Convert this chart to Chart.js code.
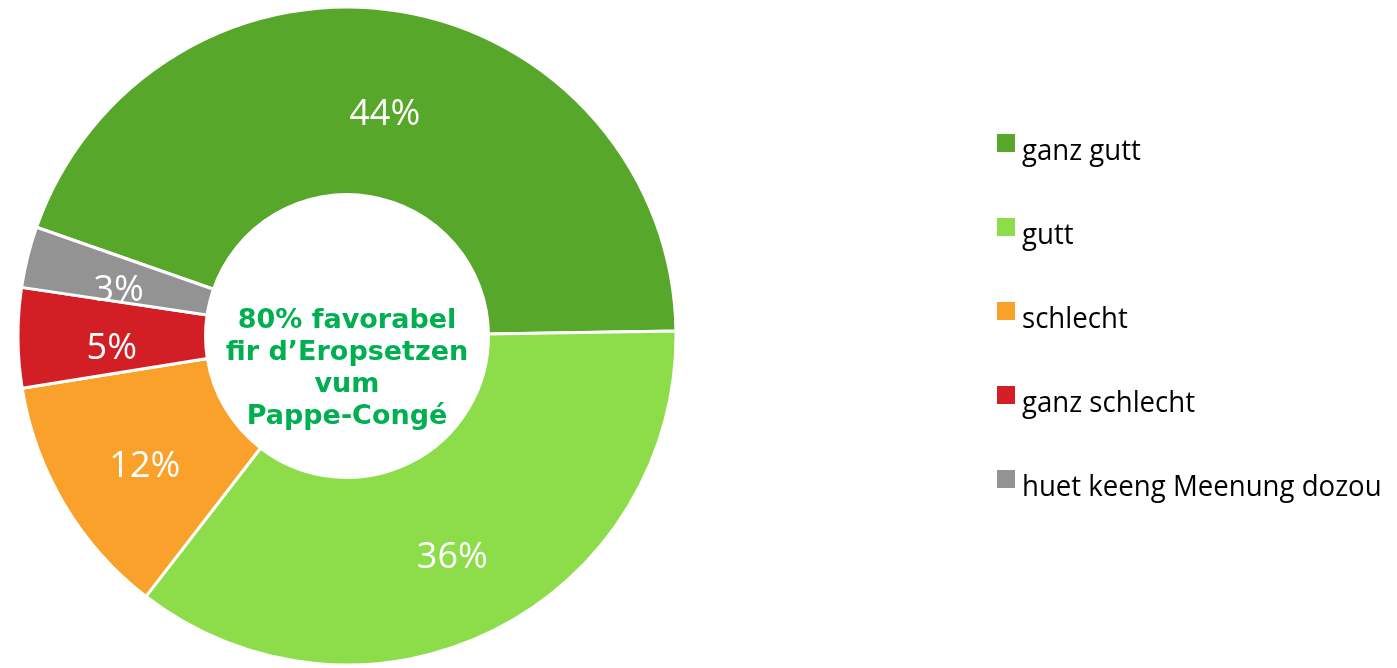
<!DOCTYPE html>
<html>
<head>
<meta charset="utf-8">
<script src="https://cdn.jsdelivr.net/npm/chart.js@4"></script>
<style>
  html, body { margin: 0; padding: 0; background: #ffffff; }
  #wrap { width: 1397px; height: 668px; position: relative; }
</style>
</head>
<body>
<div id="wrap"><canvas id="c" width="1397" height="668"></canvas></div>
<script>
const categories = ["ganz gutt", "gutt", "schlecht", "ganz schlecht", "huet keeng Meenung dozou"];
const values = [44.4, 35.7, 12, 4.9, 3];
const valueLabels = ["44%", "36%", "12%", "5%", "3%"];
const colors = ["#57a72a", "#8ddc4a", "#f9a12b", "#d21f25", "#939393"];
const centerLines = ["80% favorabel", "fir d\u2019Eropsetzen", "vum", "Pappe-Congé"];

const sliceLabelPlugin = {
  id: 'sliceLabels',
  afterDatasetsDraw(chart) {
    const ctx = chart.ctx;
    const meta = chart.getDatasetMeta(0);
    ctx.save();
    ctx.fillStyle = '#ffffff';
    ctx.font = '36px "Open Sans"';
    ctx.textAlign = 'center';
    ctx.textBaseline = 'middle';
    meta.data.forEach((arc, i) => {
      const p = arc.getCenterPoint();
      ctx.fillText(valueLabels[i], p.x, p.y + 11);
    });
    ctx.restore();
  }
};

const centerTextPlugin = {
  id: 'centerText',
  afterDatasetsDraw(chart) {
    const ctx = chart.ctx;
    const a = chart.chartArea;
    const cx = (a.left + a.right) / 2;
    const cy = (a.top + a.bottom) / 2;
    ctx.save();
    ctx.fillStyle = '#00b050';
    ctx.font = 'bold 27px "DejaVu Sans"';
    ctx.textAlign = 'center';
    ctx.textBaseline = 'alphabetic';
    const lh = 32;
    centerLines.forEach((t, i) => {
      ctx.fillText(t, cx, cy - 8 + i * lh);
    });
    ctx.restore();
  }
};

const legendPlugin = {
  id: 'customLegend',
  afterDraw(chart) {
    const ctx = chart.ctx;
    const ds = chart.data.datasets[0];
    ctx.save();
    ctx.font = '30px "Open Sans"';
    ctx.textAlign = 'left';
    ctx.textBaseline = 'alphabetic';
    chart.data.labels.forEach((lab, i) => {
      const cy = 143 + i * 84;
      ctx.fillStyle = ds.backgroundColor[i];
      ctx.fillRect(997, cy - 9, 18, 18);
      ctx.fillStyle = '#000000';
      ctx.save();
      ctx.translate(1022, cy + 17);
      ctx.scale(0.92, 1);
      ctx.fillText(lab, 0, 0);
      ctx.restore();
    });
    ctx.restore();
  }
};

new Chart(document.getElementById('c'), {
  type: 'doughnut',
  data: {
    labels: categories,
    datasets: [{
      data: values,
      backgroundColor: colors,
      borderColor: '#ffffff',
      borderWidth: 3,
      hoverBorderWidth: 3,
      hoverOffset: 0
    }]
  },
  options: {
    responsive: false,
    animation: false,
    events: [],
    rotation: -70.7,
    radius: 329,
    cutout: '43%',
    layout: { padding: { left: 17, top: 6, right: 720, bottom: 2 } },
    plugins: {
      legend: { display: false },
      tooltip: { enabled: false }
    }
  },
  plugins: [sliceLabelPlugin, centerTextPlugin, legendPlugin]
});
</script>
</body>
</html>
